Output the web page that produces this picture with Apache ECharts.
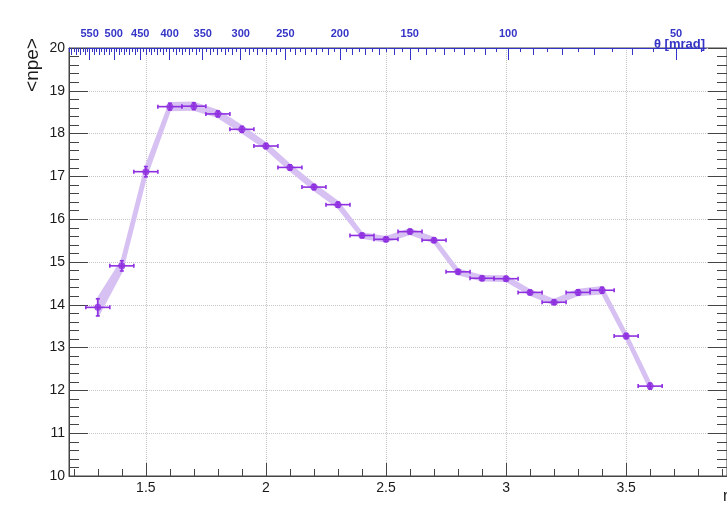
<!DOCTYPE html>
<html>
<head>
<meta charset="utf-8">
<script src="https://cdn.jsdelivr.net/npm/echarts@6/dist/echarts.min.js"></script>
<style>
  html, body { margin: 0; padding: 0; background: #ffffff; }
  #chart { width: 727px; height: 509px; }
</style>
</head>
<body>
<div id="chart"></div>
<script>
// Mean number of photoelectrons per pseudorapidity bin
const eta = [1.3, 1.4, 1.5, 1.6, 1.7, 1.8, 1.9, 2.0, 2.1, 2.2, 2.3, 2.4,
             2.5, 2.6, 2.7, 2.8, 2.9, 3.0, 3.1, 3.2, 3.3, 3.4, 3.5, 3.6];
const etaErr = [0.05, 0.05, 0.05, 0.05, 0.05, 0.05, 0.05, 0.05, 0.05, 0.05, 0.05, 0.05,
                0.05, 0.05, 0.05, 0.05, 0.05, 0.05, 0.05, 0.05, 0.05, 0.05, 0.05, 0.05];
const npe = [13.94, 14.91, 17.11, 18.63, 18.64, 18.46, 18.10, 17.71, 17.21, 16.75, 16.34, 15.62,
             15.53, 15.71, 15.51, 14.77, 14.62, 14.61, 14.29, 14.06, 14.29, 14.34, 13.27, 12.10];
const npeErr = [0.20, 0.12, 0.12, 0.08, 0.08, 0.07, 0.07, 0.06, 0.06, 0.06, 0.06, 0.05,
                0.05, 0.05, 0.05, 0.05, 0.05, 0.05, 0.05, 0.05, 0.06, 0.07, 0.06, 0.07];

// Axis tick labels
const etaTickLabels = [1.5, 2, 2.5, 3, 3.5];
const etaMinorTicks = [1.2, 1.3, 1.4, 1.6, 1.7, 1.8, 1.9, 2.1, 2.2, 2.3, 2.4, 2.6,
                       2.7, 2.8, 2.9, 3.1, 3.2, 3.3, 3.4, 3.6, 3.7, 3.8, 3.9];
const thetaLabels = [550, 500, 450, 400, 350, 300, 250, 200, 150, 100, 50];

// Polar angle (mrad) <-> pseudorapidity
const etaOfTheta = t => -Math.log(Math.tan(t / 2000));
const thetaOfEta = e => 2000 * Math.atan(Math.exp(-e));

const thetaMid = [];   // every 10 mrad
const thetaFine = [];  // every 5 mrad
for (let t = 590; t >= 50; t -= 10) if (t % 50 !== 0) thetaMid.push(t);
for (let t = 595; t >= 45; t -= 10) thetaFine.push(t);

const ETA_MIN = 1.18, ETA_MAX = 3.92;
const PX_PER_ETA = 241.97;
const TOP_AXIS_END = 3.8125;

const frame = '#444444';
const blue = '#3434c6';
const bandColor = '#d7c1f2';
const markColor = '#8e2fe0';
const gridLine = { show: true, lineStyle: { color: '#c4c4c4', type: 'dotted', width: 1 } };

const bandData = [];
for (let i = 0; i < eta.length - 1; i++) {
  bandData.push([eta[i], npe[i], npeErr[i], eta[i + 1], npe[i + 1], npeErr[i + 1]]);
}
const errData = eta.map((x, i) => [x, npe[i], etaErr[i], npeErr[i]]);
const pointData = eta.map((x, i) => [x, npe[i]]);

const hiddenAxis = {
  axisLine: { show: false }, axisTick: { show: false },
  axisLabel: { show: false }, splitLine: { show: false }
};

const chart = echarts.init(document.getElementById('chart'), null, { renderer: 'canvas' });

chart.setOption({
  animation: false,
  backgroundColor: '#ffffff',
  grid: [
    { left: 69, top: 48, width: (ETA_MAX - ETA_MIN) * PX_PER_ETA, height: 428,
      show: true, borderColor: frame, borderWidth: 1, backgroundColor: 'transparent' },
    { left: 69, top: 48, width: (TOP_AXIS_END - ETA_MIN) * PX_PER_ETA, height: 428 }
  ],
  xAxis: [
    { // pseudorapidity, bottom
      type: 'value', gridIndex: 0, position: 'bottom', min: ETA_MIN, max: ETA_MAX,
      axisLine: { show: true, onZero: false, lineStyle: { color: frame, width: 1 } },
      axisTick: { show: true, inside: true, length: 13, customValues: etaTickLabels,
                  lineStyle: { color: frame, width: 1 } },
      axisLabel: { show: true, customValues: etaTickLabels, margin: 5,
                   color: '#1a1a1a', fontSize: 14, fontFamily: 'Liberation Sans',
                   formatter: v => String(v) },
      splitLine: gridLine
    },
    { // pseudorapidity minor ticks
      type: 'value', gridIndex: 0, position: 'bottom', min: ETA_MIN, max: ETA_MAX,
      axisLine: { show: false, onZero: false },
      axisTick: { show: true, inside: true, length: 7, customValues: etaMinorTicks,
                  lineStyle: { color: frame, width: 1 } },
      axisLabel: { show: false }, splitLine: { show: false }
    },
    { // polar angle, top: major ticks and labels
      type: 'value', gridIndex: 1, position: 'top', min: ETA_MIN, max: TOP_AXIS_END,
      axisLine: { show: true, onZero: false, lineStyle: { color: blue, width: 1 } },
      axisTick: { show: true, inside: true, length: 12, customValues: thetaLabels.map(etaOfTheta),
                  lineStyle: { color: blue, width: 1 } },
      axisLabel: { show: true, customValues: thetaLabels.map(etaOfTheta), margin: 9,
                   color: blue, fontSize: 11, fontWeight: 'bold', fontFamily: 'Liberation Sans',
                   formatter: v => String(Math.round(thetaOfEta(v))) },
      splitLine: { show: false }
    },
    { // polar angle, 10 mrad ticks
      type: 'value', gridIndex: 1, position: 'top', min: ETA_MIN, max: TOP_AXIS_END,
      axisLine: { show: false, onZero: false },
      axisTick: { show: true, inside: true, length: 7, customValues: thetaMid.map(etaOfTheta),
                  lineStyle: { color: blue, width: 1 } },
      axisLabel: { show: false }, splitLine: { show: false }
    },
    { // polar angle, 5 mrad ticks
      type: 'value', gridIndex: 1, position: 'top', min: ETA_MIN, max: TOP_AXIS_END,
      axisLine: { show: false, onZero: false },
      axisTick: { show: true, inside: true, length: 4, customValues: thetaFine.map(etaOfTheta),
                  lineStyle: { color: blue, width: 1 } },
      axisLabel: { show: false }, splitLine: { show: false }
    }
  ],
  yAxis: [
    { // <npe>, left
      type: 'value', gridIndex: 0, position: 'left', min: 10, max: 20, interval: 1,
      axisLine: { show: true, onZero: false, lineStyle: { color: frame, width: 1 } },
      axisTick: { show: true, inside: true, length: 19, lineStyle: { color: frame, width: 1 } },
      minorTick: { show: true, splitNumber: 5, length: 10, lineStyle: { color: frame, width: 1 } },
      axisLabel: { show: true, margin: 4, color: '#1a1a1a', fontSize: 14,
                   fontFamily: 'Liberation Sans' },
      splitLine: gridLine
    },
    { // mirrored ticks on the right frame
      type: 'value', gridIndex: 0, position: 'right', min: 10, max: 20, interval: 1,
      axisLine: { show: true, onZero: false, lineStyle: { color: frame, width: 1 } },
      axisTick: { show: true, inside: true, length: 19, lineStyle: { color: frame, width: 1 } },
      minorTick: { show: true, splitNumber: 5, length: 10, lineStyle: { color: frame, width: 1 } },
      axisLabel: { show: false }, splitLine: { show: false }
    },
    Object.assign({ type: 'value', gridIndex: 1, min: 10, max: 20 }, hiddenAxis)
  ],
  series: [
    { // error band joining neighbouring bins
      type: 'custom', xAxisIndex: 0, yAxisIndex: 0, z: 2, silent: true,
      data: bandData,
      renderItem: (params, api) => {
        const p1 = api.coord([api.value(0), api.value(1) + api.value(2)]);
        const p2 = api.coord([api.value(3), api.value(4) + api.value(5)]);
        const p3 = api.coord([api.value(3), api.value(4) - api.value(5)]);
        const p4 = api.coord([api.value(0), api.value(1) - api.value(2)]);
        return {
          type: 'polygon',
          shape: { points: [p1, p2, p3, p4] },
          style: { fill: bandColor, stroke: bandColor, lineWidth: 2.4, lineJoin: 'round' }
        };
      }
    },
    { // horizontal and vertical error bars
      type: 'custom', xAxisIndex: 0, yAxisIndex: 0, z: 3, silent: true,
      data: errData,
      renderItem: (params, api) => {
        const x = api.value(0), y = api.value(1), ex = api.value(2), ey = api.value(3);
        const l = api.coord([x - ex, y]), r = api.coord([x + ex, y]);
        const t = api.coord([x, y + ey]), b = api.coord([x, y - ey]);
        const cap = 2;
        const st = { stroke: markColor, lineWidth: 1.6 };
        const line = (x1, y1, x2, y2) => ({ type: 'line', shape: { x1, y1, x2, y2 }, style: st });
        return {
          type: 'group',
          children: [
            line(l[0], l[1], r[0], r[1]),
            line(t[0], t[1], b[0], b[1]),
            line(l[0], l[1] - cap, l[0], l[1] + cap),
            line(r[0], r[1] - cap, r[0], r[1] + cap),
            line(t[0] - cap, t[1], t[0] + cap, t[1]),
            line(b[0] - cap, b[1], b[0] + cap, b[1])
          ]
        };
      }
    },
    { // bin means
      type: 'scatter', xAxisIndex: 0, yAxisIndex: 0, z: 4, silent: true,
      symbol: 'circle', symbolSize: 7,
      itemStyle: { color: markColor },
      data: pointData
    }
  ],
  graphic: [
    { type: 'text', x: 33, y: 65, rotation: Math.PI / 2,
      style: { text: '<npe>', fontSize: 19, fontFamily: 'Liberation Sans', fill: '#1a1a1a',
               textAlign: 'center', textVerticalAlign: 'middle' } },
    { type: 'text', x: 705, y: 44,
      style: { text: 'θ [mrad]', fontSize: 13, fontWeight: 'bold', fontFamily: 'Liberation Sans',
               fill: blue, textAlign: 'right', textVerticalAlign: 'middle' } },
    { type: 'text', x: 732, y: 497,
      style: { text: 'η', fontSize: 16, fontFamily: 'Liberation Sans', fill: '#1a1a1a',
               textAlign: 'right', textVerticalAlign: 'middle' } }
  ]
});
</script>
</body>
</html>
